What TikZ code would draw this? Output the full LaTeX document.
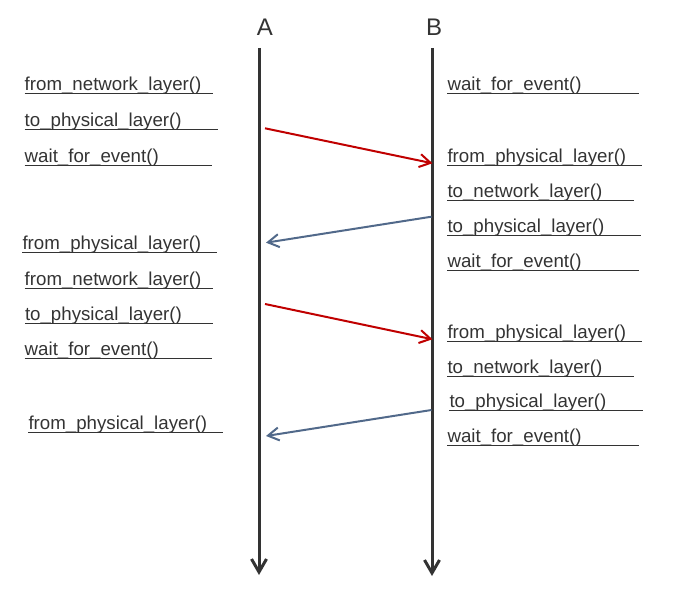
\documentclass[tikz,border=0pt]{standalone}
\usepackage{fontspec}
\setmainfont{Liberation Sans}
\usetikzlibrary{arrows.meta}
\definecolor{ink}{HTML}{333333}
\definecolor{reqred}{HTML}{C00000}
\definecolor{ackblue}{HTML}{51698A}
\tikzset{
    call/.style={anchor=base west,inner sep=0pt,text=ink,font=\fontsize{18.7}{22}\selectfont},
    side/.style={text=ink,font=\fontsize{24}{28}\selectfont},
    uline/.style={draw=ink,line width=1.3pt},
    life/.style={draw=ink,line width=3pt,-{Straight Barb[length=13pt,width=15pt]}},
    req/.style={draw=reqred,line width=2pt,-{Straight Barb[length=11pt,width=13pt]}},
    ack/.style={draw=ackblue,line width=2pt,-{Straight Barb[length=11pt,width=13pt]}}
}

\begin{document}
\begin{tikzpicture}[x=1pt,y=-1pt]
    \useasboundingbox (0,0) rectangle (683,604);
    % the two sides and their time lines
    \node[side] (A) at (265,27) {A};
    \node[side] (B) at (434,27) {B};
    \coordinate (Atop) at (259,48);
    \coordinate (Aend) at (259,575);
    \coordinate (Btop) at (432,48);
    \coordinate (Bend) at (432,576);
    \draw[life] (Atop) -- (Aend);
    \draw[life] (Btop) -- (Bend);
    % calls made by A
    \node[call] (a1) at (24.5,90.7)  {from\_network\_layer()};
    \node[call] (a2) at (24.5,126.7) {to\_physical\_layer()};
    \node[call] (a3) at (24.5,162.7) {wait\_for\_event()};
    \node[call] (a4) at (22.3,249.7) {from\_physical\_layer()};
    \node[call] (a5) at (24.5,285.7) {from\_network\_layer()};
    \node[call] (a6) at (24.8,320.7) {to\_physical\_layer()};
    \node[call] (a7) at (24.5,355.7) {wait\_for\_event()};
    \node[call] (a8) at (28.3,429.7) {from\_physical\_layer()};
    % calls made by B
    \node[call] (b1) at (447.3,90.7)  {wait\_for\_event()};
    \node[call] (b2) at (447.3,162.7) {from\_physical\_layer()};
    \node[call] (b3) at (447.3,197.7) {to\_network\_layer()};
    \node[call] (b4) at (447.3,232.7) {to\_physical\_layer()};
    \node[call] (b5) at (447.3,267.7) {wait\_for\_event()};
    \node[call] (b6) at (447.3,338.7) {from\_physical\_layer()};
    \node[call] (b7) at (447.3,373.7) {to\_network\_layer()};
    \node[call] (b8) at (449.3,407.7) {to\_physical\_layer()};
    \node[call] (b9) at (447.3,442.7) {wait\_for\_event()};
    % underlines, one length each
    \foreach \n/\w in {a1/188,a2/193.8,a3/187.2,a4/194.4,a5/188.2,a6/188.2,a7/187.2,a8/194.4,
                       b1/192,b2/194.4,b3/186.2,b4/193.4,b5/191.7,b6/194.4,b7/186.7,b8/193.4,b9/192}
        \draw[uline] (\n.base west) ++(0,2.8) -- ++(\w,0);
    % frames sent between A and B
    \coordinate (f1s) at (265,128.3);
    \coordinate (f1e) at (432.5,163.3);
    \coordinate (k1s) at (431.5,216.7);
    \coordinate (k1e) at (266,242.7);
    \coordinate (f2s) at (265,304);
    \coordinate (f2e) at (432.5,339.3);
    \coordinate (k2s) at (431.5,410);
    \coordinate (k2e) at (266,436);
    \draw[req] (f1s) -- (f1e);
    \draw[ack] (k1s) -- (k1e);
    \draw[req] (f2s) -- (f2e);
    \draw[ack] (k2s) -- (k2e);
\end{tikzpicture}
\end{document}
